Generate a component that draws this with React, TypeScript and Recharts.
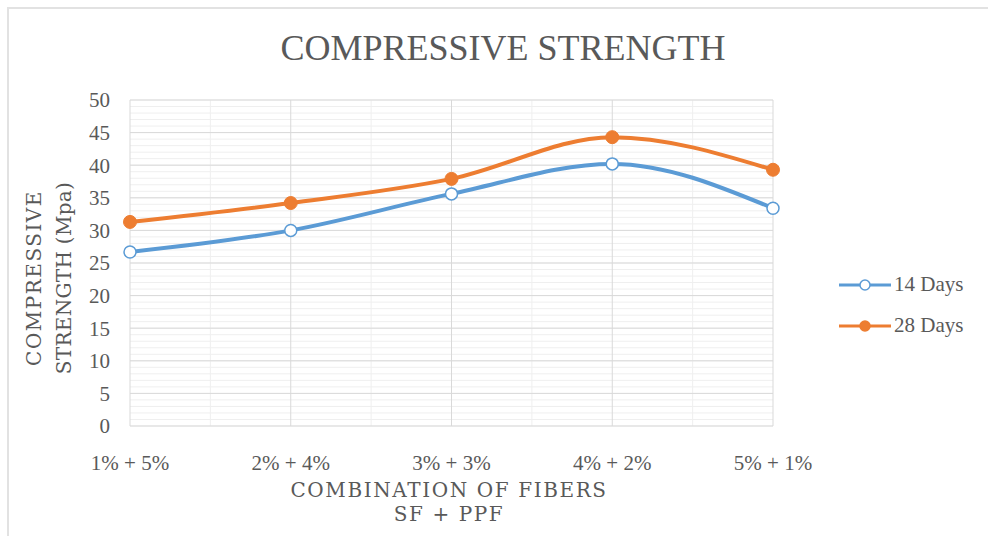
import React from 'react';
import { LineChart, Line, XAxis, YAxis, CartesianGrid } from 'recharts';

const categories = ['1% + 5%', '2% + 4%', '3% + 3%', '4% + 2%', '5% + 1%'];
const days14 = [26.7, 30.0, 35.6, 40.2, 33.4];
const days28 = [31.3, 34.2, 37.9, 44.3, 39.3];
const yTicks = [0, 5, 10, 15, 20, 25, 30, 35, 40, 45, 50];

const BLUE = '#5b9bd5';
const ORANGE = '#ed7d31';
const TEXT = '#595959';
const SERIF = '"Liberation Serif", "Times New Roman", serif';
const SLAB = '"DejaVu Serif", serif';

const chartData = categories.map((name, i) => ({
  x: i,
  name,
  d14: days14[i],
  d28: days28[i],
}));

// minor grid: every 1 unit vertically, halfway between categories horizontally
const minorY = Array.from({ length: 51 }, (_, i) => i);
const minorX = categories.slice(1).map((_, i) => i + 0.5);
const majorX = categories.map((_, i) => i);

function LegendBox() {
  const items = [
    { label: '14 Days', color: BLUE, hollow: true },
    { label: '28 Days', color: ORANGE, hollow: false },
  ];
  return (
    <div style={{ position: 'absolute', left: 838, top: 264, fontFamily: SERIF, fontSize: 21, color: TEXT }}>
      {items.map((it) => (
        <div key={it.label} style={{ display: 'flex', alignItems: 'center', height: 41 }}>
          <svg width={54} height={16} style={{ marginRight: 2 }}>
            <line x1={1} y1={8} x2={53} y2={8} stroke={it.color} strokeWidth={3} />
            <circle cx={27} cy={8} r={5} fill={it.hollow ? '#fff' : it.color} stroke={it.color} strokeWidth={1.5} />
          </svg>
          <span>{it.label}</span>
        </div>
      ))}
    </div>
  );
}

export default function App() {
  return (
    <div style={{ position: 'absolute', left: 0, top: 0, width: 988, height: 536, background: '#fff' }}>
      <div
        style={{
          position: 'absolute',
          left: 7,
          top: 7,
          right: 0,
          bottom: 0,
          borderLeft: '2px solid #e2e2e2',
          borderTop: '2px solid #e2e2e2',
        }}
      />
      <LineChart
        width={988}
        height={536}
        data={chartData}
        margin={{ top: 100, right: 215, bottom: 80, left: 0 }}
        style={{ position: 'absolute', left: 0, top: 0 }}
      >
        <CartesianGrid
          stroke="#efefef"
          strokeWidth={1}
          horizontalValues={minorY}
          verticalValues={minorX}
        />
        <CartesianGrid
          stroke="#d9d9d9"
          strokeWidth={1}
          horizontalValues={yTicks}
          verticalValues={majorX}
        />
        <XAxis
          dataKey="x"
          type="number"
          height={30}
          domain={[0, categories.length - 1]}
          ticks={majorX}
          tickFormatter={(v: number) => categories[v]}
          axisLine={false}
          tickLine={false}
          tickSize={0}
          tickMargin={29}
          interval={0}
          tick={{ fill: TEXT, fontFamily: SERIF, fontSize: 21 }}
        />
        <YAxis
          width={130}
          domain={[0, 50]}
          ticks={yTicks}
          axisLine={false}
          tickLine={false}
          tickSize={0}
          tickMargin={20}
          interval={0}
          tick={{ fill: TEXT, fontFamily: SERIF, fontSize: 21 }}
        />
        <Line
          type="monotone"
          dataKey="d14"
          name="14 Days"
          stroke={BLUE}
          strokeWidth={4}
          dot={{ r: 6, fill: '#fff', stroke: BLUE, strokeWidth: 1.5 }}
          activeDot={false}
          isAnimationActive={false}
        />
        <Line
          type="monotone"
          dataKey="d28"
          name="28 Days"
          stroke={ORANGE}
          strokeWidth={4}
          dot={{ r: 6.5, fill: ORANGE, stroke: ORANGE, strokeWidth: 1 }}
          activeDot={false}
          isAnimationActive={false}
        />
      </LineChart>
      <LegendBox />
      <svg
        width={988}
        height={536}
        style={{ position: 'absolute', left: 0, top: 0, pointerEvents: 'none' }}
      >
        <text x={503} y={60} textAnchor="middle" fontFamily={SERIF} fontSize={36} fill={TEXT}>
          COMPRESSIVE STRENGTH
        </text>
        <text
          transform="translate(41 278) rotate(-90)"
          textAnchor="middle"
          fontFamily={SLAB}
          fontSize={20}
          letterSpacing={1.5}
          fill={TEXT}
        >
          COMPRESSIVE
        </text>
        <text
          transform="translate(71 278) rotate(-90)"
          textAnchor="middle"
          fontFamily={SLAB}
          fontSize={20}
          letterSpacing={0.3}
          fill={TEXT}
        >
          STRENGTH (Mpa)
        </text>
        <text x={449} y={497} textAnchor="middle" fontFamily={SLAB} fontSize={20} letterSpacing={1.6} fill={TEXT}>
          COMBINATION OF FIBERS
        </text>
        <text x={449} y={521} textAnchor="middle" fontFamily={SLAB} fontSize={20} letterSpacing={1.6} fill={TEXT}>
          SF + PPF
        </text>
      </svg>
    </div>
  );
}
